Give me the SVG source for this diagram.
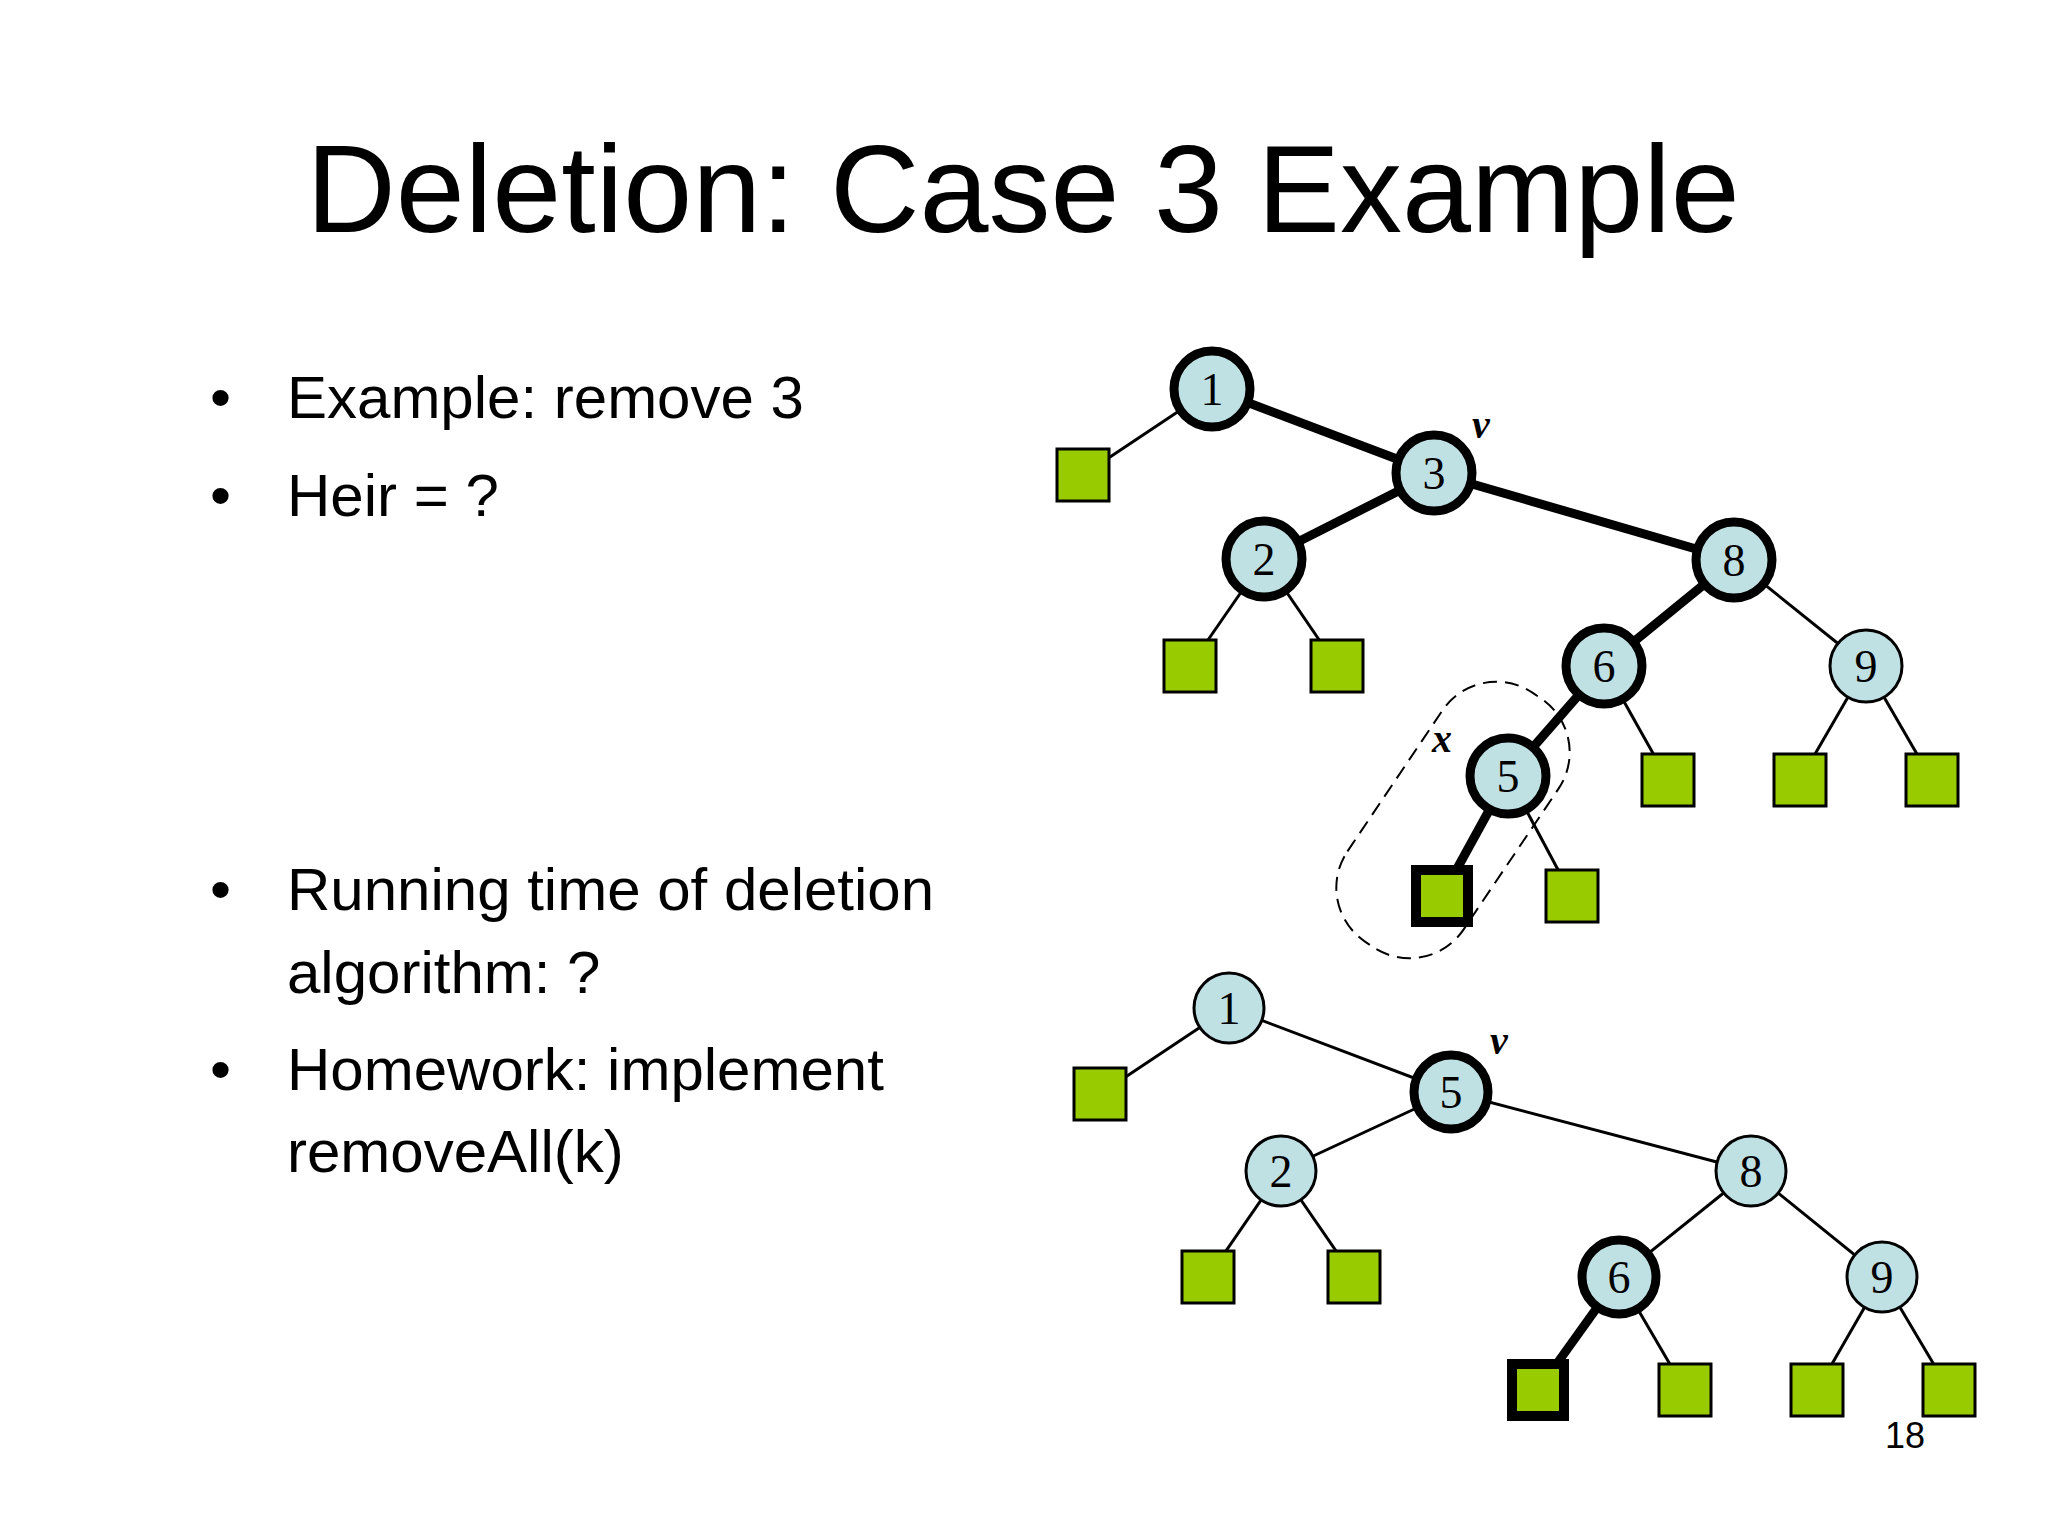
<svg xmlns="http://www.w3.org/2000/svg" width="2048" height="1536" viewBox="0 0 2048 1536">
<style>
.n circle{fill:#c0e1e4;stroke:#000;stroke-width:3}
.n.b circle{stroke-width:9}
.n text{font-family:"Liberation Serif",serif;font-size:46px;text-anchor:middle}
.l rect{fill:#99cc00;stroke:#000;stroke-width:3}
.l.b rect{stroke-width:10}
.e line{stroke:#000;stroke-width:3}
.e line.b{stroke-width:9}
.t{font-family:"Liberation Sans",Arial,sans-serif;fill:#000}
.i{font-family:"Liberation Serif",serif;font-style:italic;font-weight:bold;font-size:40px}
</style>
<rect width="2048" height="1536" fill="#fff"/>
<text class="t" x="1023" y="232" font-size="124" text-anchor="middle">Deletion: Case 3 Example</text>
<g class="t" font-size="60">
<text x="210" y="418">•</text><text x="287" y="418">Example: remove 3</text>
<text x="210" y="516">•</text><text x="287" y="516">Heir = ?</text>
<text x="210" y="910">•</text><text x="287" y="910">Running time of deletion</text>
<text x="287" y="993">algorithm: ?</text>
<text x="210" y="1090">•</text><text x="287" y="1090">Homework: implement</text>
<text x="287" y="1172">removeAll(k)</text>
</g>
<g id="connectors" class="e">
<line x1="1212" y1="389" x2="1083" y2="475"/>
<line class="b" x1="1212" y1="389" x2="1434" y2="473"/>
<line class="b" x1="1434" y1="473" x2="1264" y2="559"/>
<line class="b" x1="1434" y1="473" x2="1734" y2="560"/>
<line x1="1264" y1="559" x2="1190" y2="666"/>
<line x1="1264" y1="559" x2="1337" y2="666"/>
<line class="b" x1="1734" y1="560" x2="1604" y2="666"/>
<line x1="1734" y1="560" x2="1866" y2="666"/>
<line class="b" x1="1604" y1="666" x2="1508" y2="776"/>
<line x1="1604" y1="666" x2="1668" y2="780"/>
<line x1="1866" y1="666" x2="1800" y2="780"/>
<line x1="1866" y1="666" x2="1932" y2="780"/>
<line class="b" x1="1508" y1="776" x2="1442" y2="896"/>
<line x1="1508" y1="776" x2="1572" y2="896"/>
<line x1="1229" y1="1008" x2="1100" y2="1094"/>
<line x1="1229" y1="1008" x2="1451" y2="1092"/>
<line x1="1451" y1="1092" x2="1281" y2="1171"/>
<line x1="1451" y1="1092" x2="1751" y2="1171"/>
<line x1="1281" y1="1171" x2="1208" y2="1277"/>
<line x1="1281" y1="1171" x2="1354" y2="1277"/>
<line x1="1751" y1="1171" x2="1619" y2="1277"/>
<line x1="1751" y1="1171" x2="1882" y2="1277"/>
<line class="b" x1="1619" y1="1277" x2="1538" y2="1390"/>
<line x1="1619" y1="1277" x2="1685" y2="1390"/>
<line x1="1882" y1="1277" x2="1817" y2="1390"/>
<line x1="1882" y1="1277" x2="1949" y2="1390"/>
</g>
<rect x="1303" y="750" width="300" height="140" rx="65" transform="rotate(-56 1453 820)" fill="none" stroke="#000" stroke-width="2" stroke-dasharray="14 8"/>
<g id="n1" class="n b"><circle cx="1212" cy="389" r="38"/><text x="1212" y="405">1</text></g>
<g id="n3" class="n b"><circle cx="1434" cy="473" r="38"/><text x="1434" y="489">3</text></g>
<g id="n2" class="n b"><circle cx="1264" cy="559" r="38"/><text x="1264" y="575">2</text></g>
<g id="n8" class="n b"><circle cx="1734" cy="560" r="38"/><text x="1734" y="576">8</text></g>
<g id="n6" class="n b"><circle cx="1604" cy="666" r="38"/><text x="1604" y="682">6</text></g>
<g id="n9" class="n"><circle cx="1866" cy="666" r="36"/><text x="1866" y="682">9</text></g>
<g id="n5" class="n b"><circle cx="1508" cy="776" r="38"/><text x="1508" y="792">5</text></g>
<g id="l1" class="l"><rect x="1057" y="449" width="52" height="52"/></g>
<g id="l2a" class="l"><rect x="1164" y="640" width="52" height="52"/></g>
<g id="l2b" class="l"><rect x="1311" y="640" width="52" height="52"/></g>
<g id="l6" class="l"><rect x="1642" y="754" width="52" height="52"/></g>
<g id="l9a" class="l"><rect x="1774" y="754" width="52" height="52"/></g>
<g id="l9b" class="l"><rect x="1906" y="754" width="52" height="52"/></g>
<g id="l5a" class="l b"><rect x="1416" y="870" width="52" height="52"/></g>
<g id="l5b" class="l"><rect x="1546" y="870" width="52" height="52"/></g>
<text class="i" x="1472" y="438">v</text>
<text class="i" x="1432" y="752">x</text>
<g id="m1" class="n"><circle cx="1229" cy="1008" r="35"/><text x="1229" y="1024">1</text></g>
<g id="m5" class="n b"><circle cx="1451" cy="1092" r="37"/><text x="1451" y="1108">5</text></g>
<g id="m2" class="n"><circle cx="1281" cy="1171" r="35"/><text x="1281" y="1187">2</text></g>
<g id="m8" class="n"><circle cx="1751" cy="1171" r="35"/><text x="1751" y="1187">8</text></g>
<g id="m6" class="n b"><circle cx="1619" cy="1277" r="37"/><text x="1619" y="1293">6</text></g>
<g id="m9" class="n"><circle cx="1882" cy="1277" r="35"/><text x="1882" y="1293">9</text></g>
<g id="k1" class="l"><rect x="1074" y="1068" width="52" height="52"/></g>
<g id="k2a" class="l"><rect x="1182" y="1251" width="52" height="52"/></g>
<g id="k2b" class="l"><rect x="1328" y="1251" width="52" height="52"/></g>
<g id="k6a" class="l b"><rect x="1512" y="1364" width="52" height="52"/></g>
<g id="k6b" class="l"><rect x="1659" y="1364" width="52" height="52"/></g>
<g id="k9a" class="l"><rect x="1791" y="1364" width="52" height="52"/></g>
<g id="k9b" class="l"><rect x="1923" y="1364" width="52" height="52"/></g>
<text class="i" x="1490" y="1054">v</text>
<text class="t" x="1905" y="1448" font-size="36" text-anchor="middle">18</text>
</svg>
